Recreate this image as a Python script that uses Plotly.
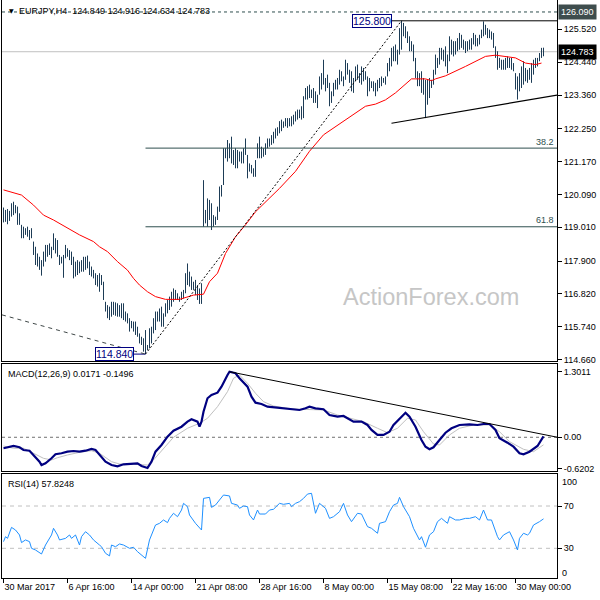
import plotly.graph_objects as go

# ---------------- data ----------------
highs = [
    119.66, 119.58, 119.61, 119.55, 119.80, 119.85, 119.74, 119.69, 119.47, 119.09,
    119.03, 118.98, 119.03, 118.92, 118.98, 118.54, 118.37, 118.15, 118.04, 117.93,
    118.21, 118.43, 118.43, 118.48, 118.37, 118.81, 118.65, 118.59, 118.10, 118.04,
    118.10, 118.43, 118.32, 118.26, 118.21, 118.04, 117.88, 117.93, 117.88, 117.93,
    118.04, 118.04, 118.08, 117.88, 117.72, 117.61, 117.50, 117.44, 117.50, 117.44,
    117.22, 116.56, 116.45, 116.40, 116.56, 116.56, 116.54, 116.51, 116.45, 116.51,
    116.51, 116.24, 116.18, 116.02, 115.93, 115.91, 115.91, 115.74, 115.52, 115.41,
    115.36, 115.63, 115.14, 115.69, 115.74, 116.02, 116.24, 116.24, 116.34, 116.40,
    116.18, 116.51, 116.62, 116.73, 116.89, 117.00, 116.95, 116.84, 116.73, 116.89,
    116.95, 117.50, 117.82, 117.55, 117.39, 117.22, 117.28, 117.11, 117.00, 117.17,
    120.56, 119.58, 119.96, 119.91, 119.80, 119.41, 119.36, 119.69, 120.35, 120.40,
    121.61, 121.61, 121.88, 121.77, 121.99, 121.55, 121.61, 121.55, 121.50, 121.50,
    121.61, 121.93, 121.39, 121.11, 121.06, 120.95, 121.22, 121.77, 121.99, 121.66,
    121.61, 121.77, 121.93, 121.93, 122.04, 122.15, 122.26, 122.30, 122.50, 122.55,
    122.49, 122.60, 122.60, 122.60, 122.66, 122.71, 122.82, 122.88, 122.88, 122.99,
    123.32, 123.59, 123.65, 123.70, 123.54, 123.59, 123.48, 123.37, 123.97, 124.08,
    124.52, 123.92, 124.03, 123.76, 123.48, 123.76, 123.86, 123.92, 124.19, 124.14,
    123.97, 124.52, 124.41, 124.19, 124.14, 123.92, 124.30, 124.36, 124.08, 124.30,
    124.25, 124.14, 123.97, 123.92, 123.81, 123.81, 123.76, 123.86, 123.92, 123.97,
    123.92, 123.97, 124.41, 124.58, 124.91, 124.96, 125.02, 124.85, 125.56, 125.80,
    125.73, 125.62, 125.45, 125.29, 125.13, 125.02, 124.58, 124.14, 124.08, 124.14,
    123.92, 123.86, 123.86, 123.92, 123.86, 124.19, 124.69, 124.58, 124.91, 124.91,
    124.85, 124.96, 124.69, 125.29, 125.18, 125.13, 125.13, 125.23, 125.40, 125.34,
    125.18, 125.13, 125.13, 125.18, 125.23, 125.40, 125.34, 125.23, 125.34, 125.51,
    125.78, 125.67, 125.56, 125.51, 125.45, 125.40, 124.96, 124.80, 124.58, 124.52,
    124.52, 124.58, 124.63, 124.58, 124.58, 124.41, 124.08, 123.97, 124.08, 124.30,
    124.47, 124.25, 124.19, 124.25, 124.41, 124.52, 124.58, 124.58, 124.74, 124.91,
    124.916,
]
lows = [
    119.17, 119.19, 119.11, 119.22, 119.36, 119.41, 119.47, 119.09, 119.09, 118.65,
    118.65, 118.76, 118.70, 118.59, 118.65, 118.10, 117.77, 117.72, 117.61, 117.42,
    117.72, 117.88, 118.04, 118.10, 117.99, 118.26, 118.15, 118.04, 117.77, 117.82,
    117.35, 117.99, 118.04, 117.93, 117.77, 117.33, 117.39, 117.44, 117.50, 117.55,
    117.55, 117.61, 117.66, 117.44, 117.39, 117.33, 117.11, 117.06, 116.89, 117.11,
    116.62, 116.24, 116.02, 115.96, 116.07, 116.13, 116.10, 116.07, 116.07, 116.02,
    115.96, 115.91, 115.85, 115.58, 115.69, 115.58, 115.47, 115.41, 115.19, 115.14,
    114.92, 114.84, 114.97, 115.03, 115.19, 115.52, 115.63, 115.91, 115.91, 115.74,
    115.74, 116.07, 116.18, 116.29, 116.40, 116.56, 116.62, 116.62, 116.56, 116.62,
    116.67, 116.84, 117.11, 117.06, 116.95, 116.95, 116.78, 116.62, 116.49, 116.49,
    119.03, 119.14, 119.03, 119.25, 118.92, 119.03, 119.09, 119.25, 119.52, 120.02,
    120.40, 121.28, 121.17, 121.28, 121.11, 121.06, 120.95, 120.95, 121.17, 121.11,
    121.11, 121.39, 120.62, 120.84, 120.78, 120.67, 120.67, 121.28, 121.28, 121.28,
    121.33, 121.39, 121.61, 121.66, 121.72, 121.77, 121.93, 122.02, 122.10, 122.17,
    122.28, 122.33, 122.28, 122.33, 122.33, 122.39, 122.49, 122.55, 122.60, 122.55,
    122.60, 123.21, 123.21, 123.26, 123.26, 123.10, 123.10, 122.93, 123.37, 123.54,
    123.70, 123.48, 123.59, 122.99, 123.10, 123.32, 123.54, 123.54, 123.70, 123.81,
    123.65, 123.86, 124.03, 123.76, 123.48, 123.43, 123.81, 123.86, 123.76, 123.70,
    123.81, 123.86, 123.32, 123.48, 123.59, 123.48, 123.32, 123.48, 123.59, 123.65,
    123.76, 123.70, 123.97, 124.14, 124.30, 124.47, 124.47, 124.36, 124.69, 124.85,
    125.29, 125.23, 125.07, 124.80, 124.80, 124.47, 123.92, 123.65, 123.65, 123.43,
    123.37, 122.60, 123.04, 123.26, 123.59, 123.70, 124.03, 124.25, 124.36, 124.52,
    124.47, 124.30, 124.08, 124.47, 124.69, 124.63, 124.69, 124.80, 124.85, 124.91,
    124.85, 124.74, 124.80, 124.85, 124.85, 125.02, 124.96, 124.96, 125.02, 125.23,
    125.29, 125.34, 125.23, 125.23, 125.18, 124.91, 124.58, 124.19, 124.25, 124.19,
    124.19, 124.19, 124.25, 124.25, 124.19, 124.14, 123.54, 123.21, 123.48, 123.59,
    123.70, 123.81, 123.76, 123.86, 123.76, 124.03, 124.25, 124.30, 124.47, 124.58,
    124.634,
]
closes = [
    119.40, 119.30, 119.45, 119.50, 119.70, 119.55, 119.60, 119.20, 119.10, 118.90,
    118.80, 118.95, 118.75, 118.90, 118.70, 118.25, 117.90, 117.80, 117.70, 117.90,
    118.10, 118.30, 118.20, 118.30, 118.30, 118.60, 118.40, 118.05, 117.90, 118.00,
    118.05, 118.15, 118.10, 118.00, 117.90, 117.60, 117.60, 117.70, 117.70, 117.80,
    117.90, 117.85, 117.80, 117.60, 117.50, 117.40, 117.20, 117.30, 117.20, 117.15,
    116.65, 116.30, 116.10, 116.30, 116.40, 116.35, 116.30, 116.20, 116.40, 116.20,
    116.10, 116.00, 115.90, 115.80, 115.75, 115.70, 115.60, 115.50, 115.30, 115.25,
    115.10, 115.00, 115.10, 115.50, 115.70, 115.80, 116.10, 116.00, 116.20, 115.90,
    116.10, 116.40, 116.50, 116.70, 116.80, 116.80, 116.75, 116.70, 116.70, 116.85,
    116.90, 117.40, 117.30, 117.20, 117.10, 117.10, 116.90, 116.80, 116.70, 116.80,
    119.40, 119.50, 119.60, 119.40, 119.20, 119.20, 119.30, 119.60, 120.10, 120.30,
    121.40, 121.50, 121.40, 121.60, 121.30, 121.30, 121.20, 121.30, 121.40, 121.30,
    121.50, 121.45, 120.90, 120.95, 120.85, 120.80, 121.20, 121.50, 121.50, 121.50,
    121.50, 121.70, 121.85, 121.80, 121.95, 122.05, 122.10, 122.25, 122.35, 122.40,
    122.40, 122.45, 122.50, 122.45, 122.60, 122.65, 122.70, 122.80, 122.75, 122.95,
    123.25, 123.45, 123.50, 123.40, 123.40, 123.30, 123.20, 123.35, 123.80, 123.90,
    123.85, 123.70, 123.65, 123.30, 123.40, 123.70, 123.70, 123.80, 124.00, 123.90,
    123.90, 124.20, 124.10, 123.90, 123.60, 123.90, 124.10, 124.00, 123.90, 124.00,
    123.95, 123.90, 123.60, 123.70, 123.65, 123.60, 123.65, 123.75, 123.80, 123.80,
    123.85, 123.95, 124.30, 124.50, 124.70, 124.80, 124.65, 124.75, 125.40, 125.40,
    125.45, 125.30, 125.15, 124.95, 124.90, 124.55, 124.00, 123.90, 123.80, 123.60,
    123.70, 123.50, 123.60, 123.70, 123.80, 124.10, 124.40, 124.50, 124.70, 124.60,
    124.70, 124.40, 124.60, 124.95, 124.80, 124.90, 124.90, 125.00, 125.10, 125.00,
    124.90, 125.00, 124.95, 125.00, 125.20, 125.15, 125.10, 125.15, 125.30, 125.50,
    125.50, 125.40, 125.35, 125.30, 125.30, 125.00, 124.70, 124.40, 124.30, 124.35,
    124.30, 124.40, 124.35, 124.40, 124.30, 124.15, 123.70, 123.60, 123.90, 124.00,
    123.90, 124.05, 123.95, 124.10, 124.40, 124.40, 124.50, 124.55, 124.70, 124.849,
    124.783,
]
first_open = 119.45
gap_bar = 100          # weekend gap bar (24 Apr)
gap_open = 120.25
opens = [first_open] + closes[:-1]
opens[gap_bar] = gap_open
bars = list(range(len(closes)))

# red moving average (bar index, value)
ma_bar = [0, 9, 15, 20, 25, 32, 38, 45, 48, 52, 57, 62, 65, 68, 72, 76, 81, 88, 92, 95,
          100, 103, 107, 111, 116, 121, 126, 133, 138, 146, 153, 160, 170, 176, 181, 186,
          191, 196, 201, 204, 211, 214, 216, 221, 231, 241, 246, 251, 256, 261, 266, 269]
ma_val = [120.24, 120.07, 119.74, 119.41, 119.25, 118.98, 118.76, 118.54, 118.37, 118.21,
          117.88, 117.60, 117.33, 117.11, 116.89, 116.73, 116.64, 116.64, 116.73, 116.78,
          116.81, 117.22, 117.50, 118.15, 118.70, 119.09, 119.52, 119.96, 120.29, 120.85,
          121.51, 122.05, 122.49, 122.77, 122.99, 123.06, 123.20, 123.43, 123.70, 123.89,
          123.89, 123.83, 123.89, 123.99, 124.30, 124.63, 124.67, 124.63, 124.58, 124.41,
          124.36, 124.41]

# MACD(12,26,9) main line
macd_bar = [0, 2, 5, 8, 10, 13, 15, 18, 19, 21, 24, 26, 29, 32, 35, 38, 41, 44, 46, 48,
            51, 54, 57, 60, 64, 67, 69, 72, 74, 76, 79, 82, 85, 89, 92, 94, 97, 98, 99, 100,
            102, 104, 107, 109, 112, 113, 116, 118, 122, 124, 126, 129, 132, 137, 142, 148,
            151, 153, 156, 160, 163, 167, 170, 173, 175, 179, 182, 184, 187, 190, 193, 195,
            198, 201, 203, 206, 209, 211, 213, 215, 218, 221, 224, 228, 233, 237, 240, 243,
            246, 248, 252, 255, 258, 260, 263, 267, 270]
macd_val = [-0.218, -0.198, -0.173, -0.198, -0.252, -0.266, -0.351, -0.484, -0.550, -0.516,
            -0.417, -0.337, -0.317, -0.286, -0.272, -0.286, -0.266, -0.232, -0.252, -0.351,
            -0.484, -0.550, -0.575, -0.536, -0.530, -0.516, -0.569, -0.610, -0.484, -0.286,
            -0.153, 0.013, 0.131, 0.210, 0.310, 0.357, 0.310, 0.210, 0.310, 0.508,
            0.774, 0.839, 0.885, 1.004, 1.236, 1.3011, 1.270, 1.171, 1.004, 0.806,
            0.687, 0.661, 0.607, 0.587, 0.562, 0.542, 0.575, 0.607, 0.575, 0.556,
            0.442, 0.409, 0.423, 0.357, 0.310, 0.310, 0.244, 0.145, 0.046, 0.046,
            0.111, 0.244, 0.377, 0.488, 0.409, 0.210, -0.054, -0.187, -0.238, -0.198,
            -0.054, 0.091, 0.179, 0.244, 0.258, 0.244, 0.264, 0.264, 0.145, -0.020,
            -0.107, -0.187, -0.317, -0.337, -0.286, -0.173, 0.0171]
# MACD signal line
sig_bar = [0, 5, 10, 15, 20, 24, 27, 32, 38, 44, 48, 54, 58, 65, 72, 75, 80, 85, 92, 98,
           102, 107, 112, 115, 118, 122, 126, 130, 135, 142, 148, 153, 160, 167, 173, 180,
           187, 192, 197, 202, 206, 210, 215, 218, 223, 228, 235, 243, 248, 253, 260, 265, 270]
sig_val = [-0.173, -0.218, -0.218, -0.317, -0.417, -0.450, -0.405, -0.351, -0.298, -0.266,
           -0.317, -0.484, -0.530, -0.536, -0.550, -0.450, -0.218, 0.000, 0.179, 0.278,
           0.377, 0.607, 0.905, 1.171, 1.236, 1.071, 0.873, 0.706, 0.621, 0.575,
           0.556, 0.556, 0.542, 0.442, 0.377, 0.310, 0.179, 0.091, 0.179, 0.377,
           0.343, 0.111, -0.133, -0.153, 0.046, 0.179, 0.244, 0.244, 0.111, -0.087,
           -0.238, -0.286, -0.1496]

# RSI(14)
rsi_bar = [0, 1, 2, 3, 4, 6, 8, 9, 11, 13, 14, 16, 18, 19, 21, 23, 24, 25, 27, 28,
           31, 33, 34, 36, 38, 39, 41, 43, 45, 48, 49, 51, 53, 54, 56, 58, 60, 63, 65, 67,
           69, 71, 73, 74, 76, 78, 80, 82, 83, 85, 87, 89, 90, 92, 93, 96, 98, 99, 100, 103,
           104, 106, 108, 110, 113, 114, 117, 118, 120, 122, 123, 125, 127, 128, 131, 133, 135, 138, 140, 143,
           144, 146, 148, 150, 152, 154, 156, 158, 161, 163, 165, 168, 170, 172, 174, 177, 179, 182, 184, 187,
           188, 191, 193, 195, 197, 198, 200, 203, 205, 208, 209, 211, 213, 215, 217, 219, 222, 223, 226, 228,
           231, 233, 236, 238, 240, 242, 244, 247, 248, 250, 253, 255, 257, 258, 260, 262, 263, 265, 268, 270]
rsi_val = [36.3, 41.0, 39.4, 45.7, 49.8, 47.3, 42.6, 35.4, 37.9, 36.3, 30.0, 28.4, 25.3, 24.6, 33.1, 39.4, 42.6, 48.9, 42.6, 37.9,
           39.4, 42.6, 39.4, 42.6, 33.1, 41.0, 45.7, 42.6, 37.9, 33.1, 31.5, 25.3, 22.8, 33.1, 31.5, 34.1, 33.1, 30.0, 31.0, 26.8,
           23.7, 20.5, 37.9, 42.6, 52.0, 53.6, 56.8, 54.3, 58.3, 63.1, 59.9, 66.2, 72.5, 69.4, 61.5, 53.6, 50.0, 47.3, 77.2, 78.2,
           68.7, 70.9, 75.7, 80.4, 79.5, 72.5, 70.9, 67.8, 70.0, 69.4, 61.5, 56.8, 66.2, 62.4, 62.4, 66.2, 66.9, 72.5, 71.6, 72.5,
           69.4, 72.5, 74.1, 77.2, 81.3, 82.0, 63.1, 72.5, 67.8, 58.3, 59.9, 64.6, 72.5, 61.5, 55.2, 63.1, 62.4, 50.5, 48.9, 44.2,
           53.6, 55.2, 64.6, 70.9, 72.5, 78.2, 69.4, 59.9, 48.9, 37.9, 41.0, 31.0, 42.6, 45.7, 55.2, 58.3, 53.6, 59.9, 56.8, 56.8,
           58.3, 58.3, 59.9, 56.8, 66.2, 56.8, 56.8, 41.0, 37.9, 42.6, 45.7, 37.9, 28.4, 39.4, 44.2, 42.6, 44.2, 52.0, 55.2, 57.8248]

# axis labels / levels
time_labels = ["30 Mar 2017", "6 Apr 16:00", "14 Apr 00:00", "21 Apr 08:00", "28 Apr 16:00",
               "8 May 00:00", "15 May 08:00", "22 May 16:00", "30 May 00:00"]
bars_per_label = 32
price_ticks = [125.52, 124.44, 123.36, 122.25, 121.17, 120.09, 119.01, 117.90, 116.82, 115.74, 114.66]
macd_ticks = [1.3011, 0.0, -0.6202]
macd_tick_text = ["1.3011", "0.00", "-0.6202"]
rsi_levels = [70, 30]
fib_levels = [38.2, 61.8]
top_line = 126.09
last_price = 124.783
title_ohlc = [124.849, 124.916, 124.634, 124.783]
left_trend_start = (-0.75, 116.13)          # ends at the swing low
support_line = [(194, 122.43), (277, 123.36)]
macd_trend_end = (277, 0.0)

# ---------------- figure ----------------
BAR = "#1d3c56"
FONT = dict(family="Liberation Sans, Arial, sans-serif", size=9, color="black")
XR = [-0.75, 276.75]
XD = [2 / 600, 557 / 600]

hi_val = max(highs)
lo_val = min(lows)
hi_bar = highs.index(hi_val)
lo_bar = lows.index(lo_val)

fig = go.Figure()
fig.add_trace(go.Ohlc(x=bars, open=opens, high=highs, low=lows, close=closes,
                      line=dict(width=1),
                      increasing=dict(line=dict(color=BAR, width=1)),
                      decreasing=dict(line=dict(color=BAR, width=1)),
                      tickwidth=0, xaxis="x", yaxis="y", showlegend=False, hoverinfo="skip"))
fig.add_trace(go.Scatter(x=ma_bar, y=ma_val, mode="lines", line=dict(color="#ff0000", width=1),
                         xaxis="x", yaxis="y", showlegend=False, hoverinfo="skip"))
fig.add_trace(go.Scatter(x=sig_bar, y=sig_val, mode="lines", line=dict(color="#c0c0c0", width=1),
                         xaxis="x2", yaxis="y2", showlegend=False, hoverinfo="skip"))
fig.add_trace(go.Scatter(x=macd_bar, y=macd_val, mode="lines", line=dict(color="#000080", width=2.2),
                         xaxis="x2", yaxis="y2", showlegend=False, hoverinfo="skip"))
fig.add_trace(go.Scatter(x=rsi_bar, y=rsi_val, mode="lines", line=dict(color="#1e90ff", width=1),
                         xaxis="x3", yaxis="y3", showlegend=False, hoverinfo="skip"))

common_x = dict(range=XR, domain=XD, showgrid=False, zeroline=False, showline=True,
                linecolor="black", linewidth=1, mirror=True, fixedrange=True)
common_y = dict(side="right", showgrid=False, zeroline=False, showline=True, linecolor="black",
                linewidth=1, mirror=True, ticks="outside", ticklen=4, tickcolor="black",
                tickfont=FONT, fixedrange=True, tickmode="array")

shapes = []
def hline(y, x0, x1, color, dash="solid", xref="x", yref="y", width=1, layer="above"):
    shapes.append(dict(type="line", xref=xref, yref=yref, x0=x0, x1=x1, y0=y, y1=y,
                       line=dict(color=color, width=width, dash=dash), layer=layer))

def seg(p0, p1, color, dash="solid", xref="x", yref="y", width=1, layer="above"):
    shapes.append(dict(type="line", xref=xref, yref=yref, x0=p0[0], y0=p0[1], x1=p1[0], y1=p1[1],
                       line=dict(color=color, width=width, dash=dash), layer=layer))

hline(top_line, XR[0], XR[1], "#2f4f4f", dash="3px,3px", layer="below")
hline(last_price, XR[0], XR[1], "#c0c0c0", layer="below")
for lvl in fib_levels:
    hline(hi_val - lvl / 100 * (hi_val - lo_val), lo_bar, XR[1], "#2f4f4f")
seg((lo_bar, lo_val), (hi_bar, hi_val), "black", dash="2px,2px")
hline(hi_val, hi_bar - 5, XR[1], "black")
hline(lo_val, lo_bar - 6, lo_bar, "#000080")
seg(left_trend_start, (lo_bar, lo_val), "#404848", dash="4px,4px")
seg(support_line[0], support_line[1], "black", width=1.2)
macd_peak_bar = macd_bar[macd_val.index(max(macd_val))]
seg((macd_peak_bar, max(macd_val)), macd_trend_end, "black", xref="x2", yref="y2")
hline(0, XR[0], XR[1], "#707070", dash="3px,3px", xref="x2", yref="y2", layer="below")
for lv in rsi_levels:
    hline(lv, XR[0], XR[1], "#c0c0c0", dash="4px,4px", xref="x3", yref="y3", layer="below")

annotations = [
    dict(text="▼", x=7 / 600, y=1 - 11 / 600, xref="paper", yref="paper", xanchor="left",
         yanchor="middle", showarrow=False, font=dict(family="DejaVu Sans", size=6, color="black")),
    dict(text="EURJPY,H4\u00a0 " + " ".join(f"{v:.3f}" for v in title_ohlc),
         x=17 / 600, y=1 - 11 / 600, xref="paper", yref="paper", xanchor="left", yanchor="middle",
         showarrow=False, font=FONT),
    dict(text=f"MACD(12,26,9) {macd_val[-1]:.4f} {sig_val[-1]:.4f}", x=6 / 600, y=1 - 374 / 600,
         xref="paper", yref="paper", xanchor="left", yanchor="middle", showarrow=False, font=FONT),
    dict(text=f"RSI(14) {rsi_val[-1]:.4f}", x=6 / 600, y=1 - 484 / 600,
         xref="paper", yref="paper", xanchor="left", yanchor="middle", showarrow=False, font=FONT),
    dict(text="ActionForex.com", x=431 / 600, y=1 - 297 / 600, xref="paper", yref="paper",
         xanchor="center", yanchor="middle",
         showarrow=False, font=dict(family="Liberation Sans, Arial", size=23.5, color="#c6c6c6")),
    dict(text=f"{hi_val:.3f}", x=hi_bar - 5, y=hi_val, xref="x", yref="y", xanchor="right",
         yanchor="middle", showarrow=False, bgcolor="white", bordercolor="#000080", borderwidth=1,
         borderpad=0, font=dict(family="Liberation Sans, Arial", size=10.5, color="#000080")),
    dict(text=f"{lo_val:.3f}", x=lo_bar - 6, y=lo_val, xref="x", yref="y", xanchor="right",
         yanchor="middle", showarrow=False, bgcolor="white", bordercolor="#000080", borderwidth=1,
         borderpad=0, font=dict(family="Liberation Sans, Arial", size=10.5, color="#000080")),
    dict(text=f"{top_line:.3f}", x=557.5 / 600, y=top_line, xref="paper", yref="y", xanchor="left",
         yanchor="middle", showarrow=False, bgcolor="#3e4d4d", borderpad=2,
         font=dict(family="Liberation Sans, Arial", size=9, color="white")),
    dict(text=f"{last_price:.3f}", x=557.5 / 600, y=last_price, xref="paper", yref="y", xanchor="left",
         yanchor="middle", showarrow=False, bgcolor="black", borderpad=2,
         font=dict(family="Liberation Sans, Arial", size=9, color="white")),
    dict(text="100", x=560 / 600, y=1 - 481.5 / 600, xref="paper", yref="paper", xanchor="left",
         yanchor="middle", showarrow=False, font=FONT),
    dict(text="0", x=560 / 600, y=1 - 572.5 / 600, xref="paper", yref="paper", xanchor="left",
         yanchor="middle", showarrow=False, font=FONT),
]
for lvl, ypx in zip(fib_levels, [141.5, 220.5]):
    annotations.append(dict(text=f"{lvl}", x=556 / 600, y=1 - ypx / 600, xref="paper", yref="paper",
                            xanchor="right", yanchor="middle", showarrow=False,
                            font=dict(family="Liberation Sans, Arial", size=9, color="#2f4f4f")))

fig.update_layout(
    width=600, height=600, margin=dict(l=0, r=0, t=0, b=0, autoexpand=False),
    paper_bgcolor="white", plot_bgcolor="white", showlegend=False,
    xaxis=dict(**common_x, anchor="y", showticklabels=False, ticks="", rangeslider=dict(visible=False)),
    xaxis2=dict(**common_x, anchor="y2", showticklabels=False, ticks=""),
    xaxis3=dict(**common_x, anchor="y3", tickmode="array",
                tickvals=[k * bars_per_label for k in range(len(time_labels))], ticktext=time_labels,
                ticks="outside", ticklen=4, tickcolor="black", ticklabelposition="outside right",
                tickangle=0, tickfont=FONT),
    yaxis=dict(**common_y, anchor="x", domain=[1 - 361 / 600, 1], range=[114.613, 126.484],
               tickvals=price_ticks, ticktext=[f"{v:.3f}" for v in price_ticks]),
    yaxis2=dict(**common_y, anchor="x2", domain=[1 - 471 / 600, 1 - 364 / 600], range=[-0.669, 1.454],
                tickvals=macd_ticks, ticktext=macd_tick_text),
    yaxis3=dict(**common_y, anchor="x3", domain=[1 - 578 / 600, 1 - 474 / 600], range=[1.91, 100.26],
                tickvals=rsi_levels, ticktext=[str(v) for v in rsi_levels]),
    shapes=shapes, annotations=annotations,
)

fig.write_html("out.html", config={"displayModeBar": False},
               post_script="document.body.style.margin='0px';document.body.style.overflow='hidden';")
